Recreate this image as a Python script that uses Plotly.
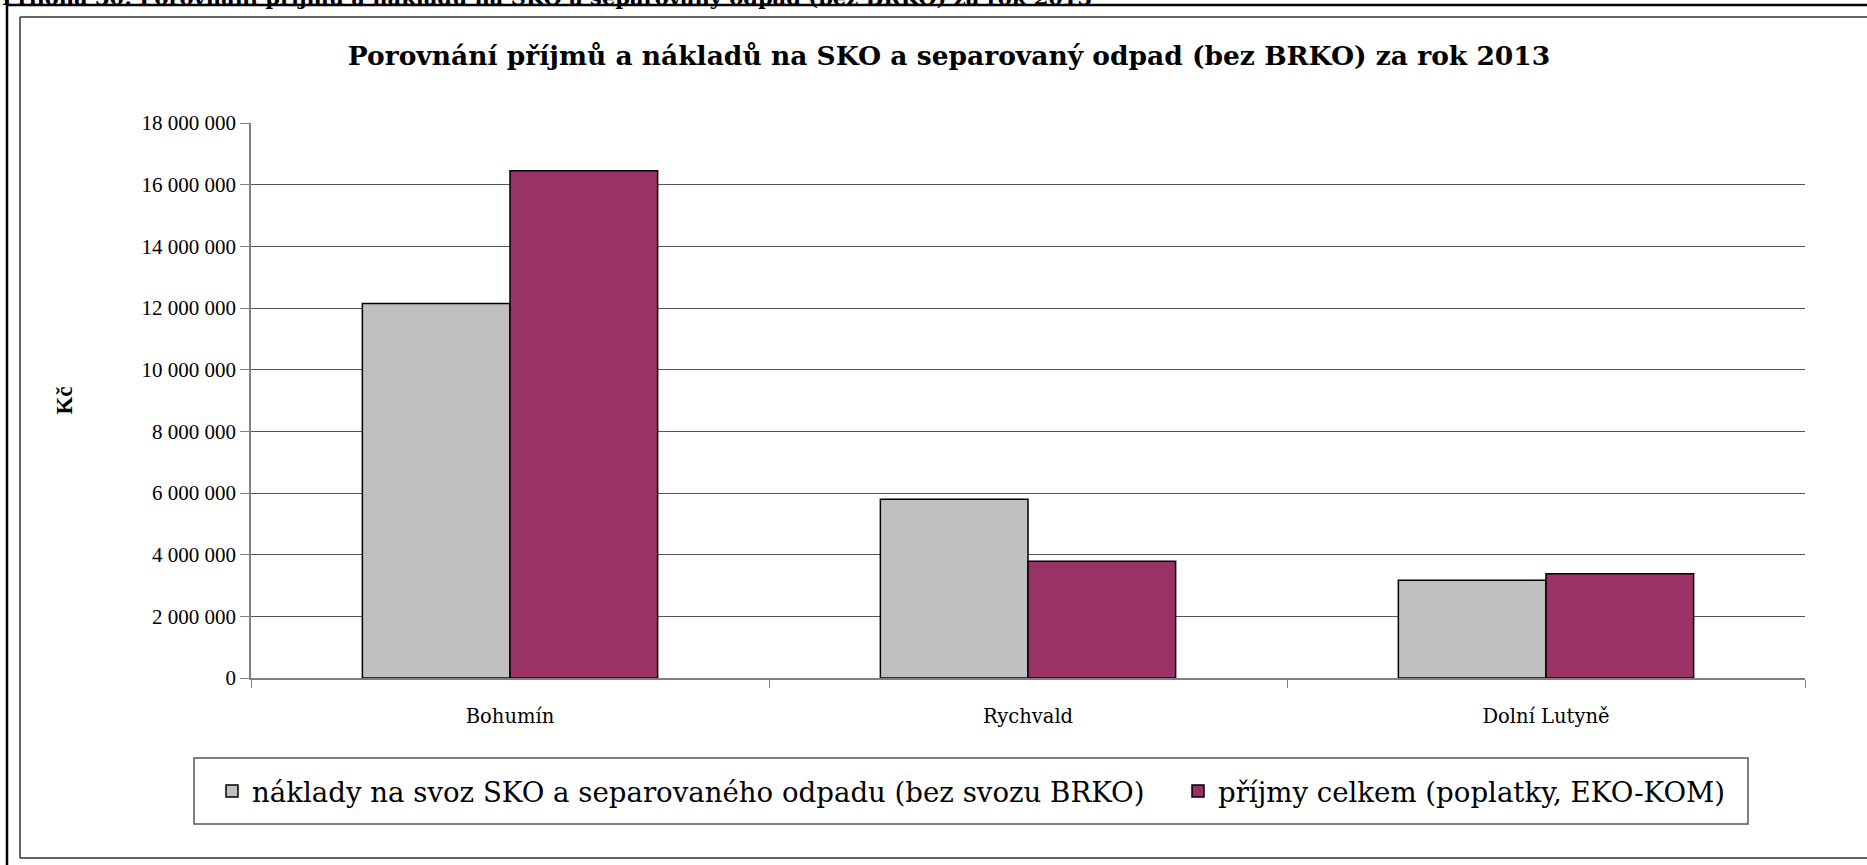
import plotly.graph_objects as go

categories = ["Bohumín", "Rychvald", "Dolní Lutyně"]
naklady = [12150000, 5800000, 3170000]
prijmy = [16450000, 3790000, 3380000]
series_names = ["náklady na svoz SKO a separovaného odpadu (bez svozu BRKO)",
                "příjmy celkem (poplatky, EKO-KOM)"]
y_ticks = list(range(0, 18000001, 2000000))

W, H = 1867, 865
L, R, T, B = 251, 62, 123, 187
PW, PH = W - L - R, H - T - B

def px(x):
    return (x - L) / PW

def py(y):
    return (H - B - y) / PH

SERIF = "Liberation Serif, Times New Roman, serif"
WIDE = "DejaVu Serif, serif"

fig = go.Figure()
fig.add_trace(go.Bar(x=categories, y=naklady, name=series_names[0], legendwidth=921,
                     marker=dict(color="#C0C0C0", line=dict(color="#000000", width=1.5))))
fig.add_trace(go.Bar(x=categories, y=prijmy, name=series_names[1],
                     marker=dict(color="#993366", line=dict(color="#000000", width=1.5))))

shapes = [
    # outer frame
    dict(type="line", xref="paper", yref="paper", x0=px(7), x1=px(W + 20), y0=py(5), y1=py(5),
         line=dict(color="#000000", width=2.5)),
    dict(type="line", xref="paper", yref="paper", x0=px(7), x1=px(7), y0=py(5), y1=py(H + 20),
         line=dict(color="#000000", width=2.5)),
    # inner frame
    dict(type="line", xref="paper", yref="paper", x0=px(20), x1=px(W + 20), y0=py(17), y1=py(17),
         line=dict(color="#333333", width=1.5)),
    dict(type="line", xref="paper", yref="paper", x0=px(20), x1=px(20), y0=py(17), y1=py(858),
         line=dict(color="#333333", width=1.5)),
    dict(type="line", xref="paper", yref="paper", x0=px(20), x1=px(W + 20), y0=py(858), y1=py(858),
         line=dict(color="#333333", width=1.5)),
    # legend box
    dict(type="rect", xref="paper", yref="paper", x0=px(194), x1=px(1748), y0=py(758), y1=py(824),
         line=dict(color="#555555", width=1.5), fillcolor="rgba(0,0,0,0)", layer="below"),
]

fig.update_layout(
    width=W, height=H,
    margin=dict(l=L, r=R, t=T, b=B, autoexpand=False),
    paper_bgcolor="white", plot_bgcolor="white",
    separators=", ",
    barmode="group", bargap=0.43, bargroupgap=0,
    font=dict(family=SERIF, color="#000000", size=20),
    title=dict(text="<b>Porovnání příjmů a nákladů na SKO a separovaný odpad (bez BRKO) za rok 2013</b>",
               x=949 / W, xanchor="center", y=1 - 56 / H, yanchor="middle",
               font=dict(family=WIDE, size=26.5, color="#000000")),
    xaxis=dict(showgrid=False, showline=True, linecolor="#808080", linewidth=1.5,
               ticks="outside", tickson="boundaries", ticklen=8, tickcolor="#808080",
               tickfont=dict(family=WIDE, size=19.5), ticklabelstandoff=20),
    yaxis=dict(range=[0, 18000000], tickvals=y_ticks, tickformat=",d",
               showgrid=True, gridcolor="#555555", gridwidth=1,
               showline=True, linecolor="#808080", linewidth=1.5,
               ticks="outside", ticklen=9, tickcolor="#808080",
               tickfont=dict(family=SERIF, size=21),
               title=dict(text="<b>Kč</b>", font=dict(family=SERIF, size=23), standoff=62),
               zeroline=False),
    legend=dict(orientation="h", x=px(212), y=py(791), xanchor="left", yanchor="middle",
                borderwidth=0, bgcolor="rgba(0,0,0,0)",
                font=dict(family=WIDE, size=27.6), itemwidth=30,
                traceorder="normal"),
    shapes=shapes,
    annotations=[dict(text="<b>Příloha 30: Porovnání příjmů a nákladů na SKO a separovaný odpad (bez BRKO) za rok 2013</b>",
                      xref="paper", yref="paper", x=px(0), y=py(-3), xanchor="left", yanchor="middle",
                      showarrow=False, font=dict(family=WIDE, size=21, color="#000000"))],
)

fig.write_html("out.html", config={"displayModeBar": False},
               post_script="document.body.style.margin='0';document.body.style.overflow='hidden';")
